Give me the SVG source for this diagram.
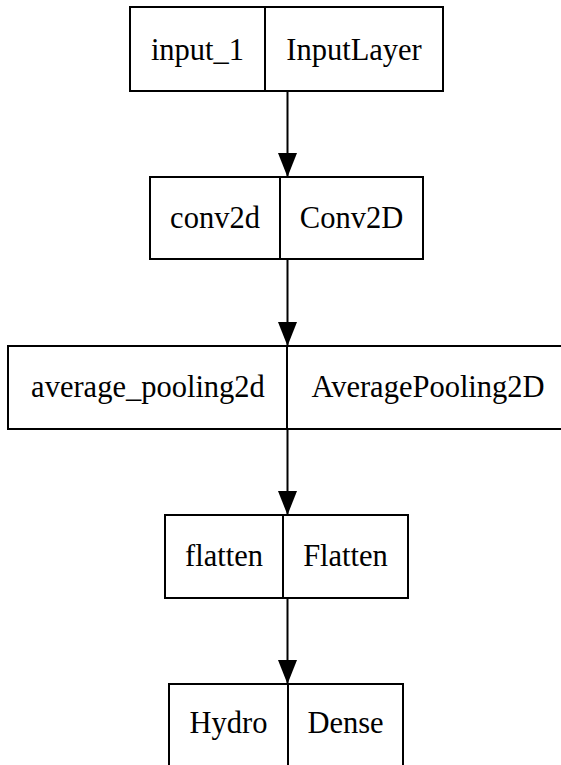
<svg xmlns="http://www.w3.org/2000/svg" width="561" height="765" viewBox="0 0 561 765">
  <style>
    .box { fill: #ffffff; stroke: #000000; stroke-width: 2; }
    .sep { stroke: #000000; stroke-width: 2; fill: none; }
    .lbl { font-family: "Liberation Serif", "Times New Roman", serif; font-size: 30.5px; fill: #000000; text-anchor: middle; }
    .edge { stroke: #000000; stroke-width: 2; fill: none; marker-end: url(#arrow); }
  </style>
  <defs>
    <!-- filled triangular head, 24 long and 19 wide, tip at the path end -->
    <marker id="arrow" viewBox="0 0 24 19" refX="24" refY="9.5" markerWidth="24" markerHeight="19" markerUnits="userSpaceOnUse" orient="auto">
      <path d="M0,0 L24,9.5 L0,19 Z" fill="#000000"/>
    </marker>
  </defs>
  <rect width="561" height="765" fill="#ffffff"/>

  <g id="connectors">
    <path class="edge" d="M287.5,92 L287.5,177"/>
    <path class="edge" d="M287.5,259 L287.5,346"/>
    <path class="edge" d="M287.5,429 L287.5,515"/>
    <path class="edge" d="M287.5,598 L287.5,684"/>
  </g>

  <g id="input_1">
    <rect class="box" x="130" y="7" width="313" height="84"/>
    <line class="sep" x1="265" y1="7" x2="265" y2="91"/>
    <text class="lbl" x="197.5" y="60">input_1</text>
    <text class="lbl" x="354" y="60">InputLayer</text>
  </g>

  <g id="conv2d">
    <rect class="box" x="150" y="177" width="273" height="82"/>
    <line class="sep" x1="280" y1="177" x2="280" y2="259"/>
    <text class="lbl" x="215" y="228">conv2d</text>
    <text class="lbl" x="351.5" y="228">Conv2D</text>
  </g>

  <g id="average_pooling2d">
    <rect class="box" x="8" y="346" width="561" height="83"/>
    <line class="sep" x1="287" y1="346" x2="287" y2="429"/>
    <text class="lbl" x="148" y="397">average_pooling2d</text>
    <text class="lbl" x="428" y="397">AveragePooling2D</text>
  </g>

  <g id="flatten">
    <rect class="box" x="165" y="515" width="243" height="83"/>
    <line class="sep" x1="283" y1="515" x2="283" y2="598"/>
    <text class="lbl" x="224" y="566">flatten</text>
    <text class="lbl" x="345.5" y="566">Flatten</text>
  </g>

  <g id="Hydro">
    <rect class="box" x="169" y="684" width="234" height="84"/>
    <line class="sep" x1="288" y1="684" x2="288" y2="768"/>
    <text class="lbl" x="228.5" y="733">Hydro</text>
    <text class="lbl" x="345.5" y="733">Dense</text>
  </g>
</svg>
